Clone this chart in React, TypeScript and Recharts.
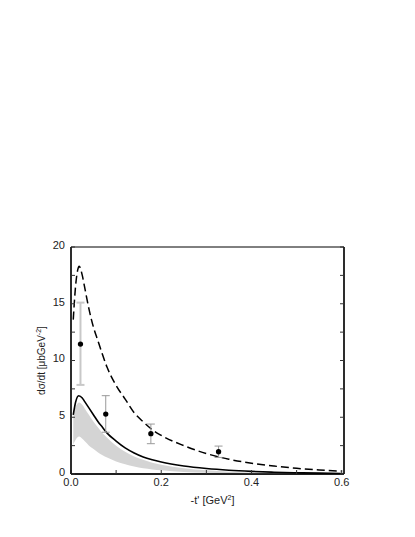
import React from 'react'
import {
  ComposedChart,
  Line,
  Area,
  Scatter,
  ErrorBar,
  XAxis,
  YAxis,
  ZAxis,
  ReferenceArea,
} from 'recharts'

// dashed curve
const dashT = [0.005, 0.01, 0.015, 0.018, 0.025, 0.03, 0.04, 0.05, 0.06, 0.07, 0.08, 0.1, 0.12, 0.14, 0.16, 0.18, 0.2, 0.25, 0.3, 0.35, 0.4, 0.45, 0.5, 0.55, 0.6]
const dashY = [13.6, 16.5, 18.0, 18.3, 17.5, 16.5, 14.5, 12.9, 11.7, 10.5, 9.4, 7.8, 6.6, 5.4, 4.6, 3.9, 3.4, 2.5, 1.8, 1.3, 0.95, 0.7, 0.5, 0.35, 0.25]

// solid curve
const solidT = [0.005, 0.01, 0.017, 0.025, 0.03, 0.04, 0.05, 0.06, 0.07, 0.08, 0.1, 0.12, 0.14, 0.16, 0.18, 0.2, 0.25, 0.3, 0.35, 0.4, 0.45, 0.5, 0.55, 0.6]
const solidY = [5.2, 6.3, 6.9, 6.7, 6.4, 5.8, 5.2, 4.6, 4.1, 3.6, 2.9, 2.3, 1.85, 1.5, 1.25, 1.05, 0.7, 0.48, 0.33, 0.23, 0.16, 0.11, 0.08, 0.05]

// grey band
const bandT = [0.005, 0.01, 0.018, 0.025, 0.03, 0.04, 0.05, 0.06, 0.07, 0.08, 0.1, 0.12, 0.14, 0.16, 0.18, 0.2, 0.25, 0.3, 0.35, 0.4, 0.45, 0.5]
const bandHigh = [5.0, 5.9, 6.3, 6.1, 5.8, 5.2, 4.6, 4.1, 3.6, 3.2, 2.5, 1.95, 1.55, 1.25, 1.0, 0.82, 0.5, 0.32, 0.2, 0.13, 0.08, 0.05]
const bandLow = [2.6, 3.0, 3.3, 3.1, 2.9, 2.5, 2.2, 1.9, 1.65, 1.45, 1.1, 0.85, 0.65, 0.5, 0.4, 0.32, 0.18, 0.1, 0.06, 0.03, 0.02, 0.01]

// data points
const pointT = [0.021, 0.077, 0.177, 0.327]
const pointY = [11.45, 5.28, 3.55, 1.96]
const errDown = [3.6, 1.6, 0.88, 0.5]
const errUp = [3.65, 1.62, 0.85, 0.5]

const xTicks = [0, 0.1, 0.2, 0.3, 0.4, 0.5, 0.6]
const yTicks = [0, 2.5, 5, 7.5, 10, 12.5, 15, 17.5, 20]
const xDomain = [0, 0.605]
const yDomain = [0, 20]

const dashData = dashT.map((t, i) => ({ t, y: dashY[i] }))
const solidData = solidT.map((t, i) => ({ t, y: solidY[i] }))
const bandData = bandT.map((t, i) => ({ t, range: [bandLow[i], bandHigh[i]] }))
const points = pointT.map((t, i) => ({ t, y: pointY[i], err: [errDown[i], errUp[i]] }))

const font = '"Liberation Sans", Arial, sans-serif'
const tickStyle = { fontSize: 11, fill: '#222', fontFamily: font }
const noLabel = () => <g />
// only every second tick carries a label
const xFmt = (v: number) => (Math.round(v * 10) % 2 === 0 ? v.toFixed(1) : '')
const yFmt = (v: number) => (v % 5 === 0 ? String(v) : '')

export default function App() {
  return (
    <div style={{ position: 'absolute', left: 0, top: 0, width: 415, height: 537, background: '#fff' }}>
      <ComposedChart width={415} height={537} margin={{ top: 247, right: 70, bottom: 23, left: 0 }}>
        <XAxis
          xAxisId="x"
          dataKey="t"
          type="number"
          domain={xDomain}
          allowDataOverflow
          ticks={xTicks}
          tickFormatter={xFmt}
          tick={tickStyle}
          tickLine={{ stroke: '#333' }}
          tickSize={-4}
          tickMargin={8}
          axisLine={{ stroke: '#000', strokeWidth: 1.3 }}
          height={40}
          label={{
            content: ({ viewBox }: any) => (
              <text
                x={viewBox.x + viewBox.width / 2 + 5}
                y={viewBox.y + 30}
                textAnchor="middle"
                fontSize={11}
                fontFamily={font}
                fill="#222"
              >
                -t' [GeV<tspan dy={-4} fontSize={7}>2</tspan>
                <tspan dy={4}>]</tspan>
              </text>
            ),
          }}
        />
        <YAxis
          yAxisId="y"
          type="number"
          domain={yDomain}
          allowDataOverflow
          ticks={yTicks}
          tickFormatter={yFmt}
          tick={{ ...tickStyle, dy: -2 }}
          tickLine={{ stroke: '#333' }}
          tickSize={-4}
          tickMargin={10}
          axisLine={{ stroke: '#000', strokeWidth: 1.3 }}
          width={71}
          label={{
            content: ({ viewBox }: any) => {
              const cx = viewBox.x + 45
              const cy = viewBox.y + viewBox.height / 2
              return (
                <text
                  x={cx}
                  y={cy}
                  transform={`rotate(-90 ${cx} ${cy})`}
                  textAnchor="middle"
                  fontSize={10}
                  fontFamily={font}
                  fill="#222"
                >
                  dσ/dt [μbGeV<tspan dy={-4} fontSize={7}>-2</tspan>
                  <tspan dy={4}>]</tspan>
                </text>
              )
            },
          }}
        />
        <YAxis
          yAxisId="yr"
          orientation="right"
          type="number"
          domain={yDomain}
          allowDataOverflow
          ticks={yTicks}
          tick={noLabel}
          tickSize={-4}
          axisLine={{ stroke: '#000', strokeWidth: 1.3 }}
          tickLine={{ stroke: '#333' }}
          width={1}
        />
        <ZAxis range={[22, 22]} />
        {/* hidden series so the right tick axis is drawn */}
        <Line xAxisId="x" yAxisId="yr" data={dashData} dataKey="y" stroke="none" dot={false} isAnimationActive={false} />
        <ReferenceArea
          xAxisId="x"
          yAxisId="y"
          x1={xDomain[0]}
          x2={xDomain[1]}
          y1={yDomain[0]}
          y2={yDomain[1]}
          fill="none"
          stroke="#000"
          strokeWidth={1}
        />
        <Area
          xAxisId="x"
          yAxisId="y"
          data={bandData}
          dataKey="range"
          type="monotone"
          stroke="none"
          fill="#d4d4d4"
          fillOpacity={1}
          isAnimationActive={false}
        />
        <Line
          xAxisId="x"
          yAxisId="y"
          data={solidData}
          dataKey="y"
          type="monotone"
          stroke="#000"
          strokeWidth={1.6}
          dot={false}
          isAnimationActive={false}
        />
        <Line
          xAxisId="x"
          yAxisId="y"
          data={dashData}
          dataKey="y"
          type="monotone"
          stroke="#000"
          strokeWidth={1.5}
          strokeDasharray="8 4"
          dot={false}
          isAnimationActive={false}
        />
        <Scatter
          xAxisId="x"
          yAxisId="y"
          data={points.slice(0, 1)}
          dataKey="y"
          fill="#000"
          isAnimationActive={false}
        >
          <ErrorBar dataKey="err" direction="y" width={4} stroke="#c8c8c8" strokeWidth={2} />
        </Scatter>
        <Scatter
          xAxisId="x"
          yAxisId="y"
          data={points.slice(1)}
          dataKey="y"
          fill="#000"
          isAnimationActive={false}
        >
          <ErrorBar dataKey="err" direction="y" width={4} stroke="#999" strokeWidth={1} />
        </Scatter>
      </ComposedChart>
    </div>
  )
}
